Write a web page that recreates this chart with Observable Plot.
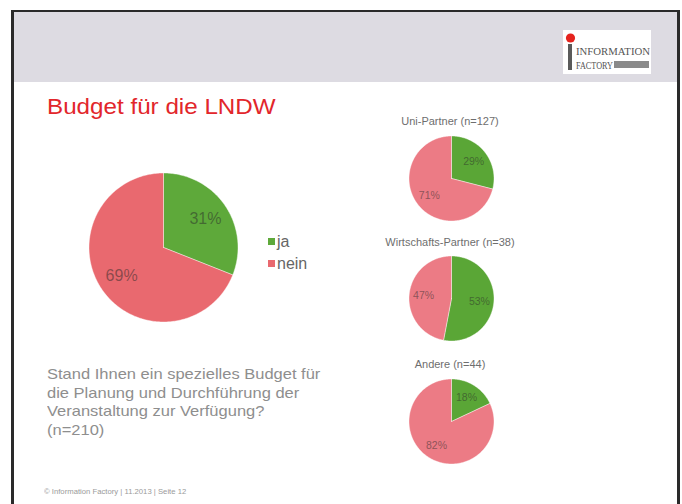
<!DOCTYPE html>
<html>
<head>
<meta charset="utf-8">
<script src="https://cdn.jsdelivr.net/npm/d3@7"></script>
<script src="https://cdn.jsdelivr.net/npm/@observablehq/plot@0.6"></script>
<style>
  html, body { margin: 0; padding: 0; background: #fff; }
  #page { position: relative; width: 682px; height: 504px; overflow: hidden; background: #fff; font-family: "Liberation Sans", Arial, sans-serif; }
  .abs { position: absolute; }
  .sx { transform-origin: 0 0; transform: scaleX(1.1); }
  #frame { left: 11px; top: 10px; width: 669px; height: 530px; box-sizing: border-box; border-left: 3px solid #2a2a2a; border-top: 2px solid #2a2a2a; border-right: 3px solid #2a2a2a; }
  #header { left: 14px; top: 12px; width: 663px; height: 70px; background: #dddbe2; }
  #title { left: 47px; top: 94px; font-size: 22px; color: #e2262b; white-space: nowrap; }
  #question { left: 47px; top: 365px; font-size: 15px; line-height: 18.5px; color: #8e8e8e; white-space: nowrap; }
  #footer { left: 44px; top: 487.5px; font-size: 7px; color: #9a9a9a; white-space: nowrap; }
  .ptitle { font-size: 10px; color: #6e6e6e; white-space: nowrap; transform: translateX(-50%) scaleX(1.1); }
  .leg { font-size: 16px; color: #666; white-space: nowrap; }
  .sw { width: 7px; height: 7px; }
</style>
</head>
<body>
<div id="page">
  <div id="frame" class="abs"></div>
  <div id="header" class="abs"></div>
  <svg class="abs" style="left:563px;top:30px" width="88" height="44">
    <rect x="0" y="0" width="88" height="44" fill="#fff"/>
    <circle cx="7.5" cy="8" r="4.6" fill="#e5231e"/>
    <rect x="5" y="14" width="4" height="26" fill="#5a5a5a"/>
    <text x="13" y="25" font-family="Liberation Serif, serif" font-size="10.5" fill="#555" textLength="74" lengthAdjust="spacingAndGlyphs">INFORMATION</text>
    <text x="13" y="39" font-family="Liberation Serif, serif" font-size="11" fill="#555" textLength="37" lengthAdjust="spacingAndGlyphs">FACTORY</text>
    <rect x="51" y="31" width="35" height="7" fill="#8a8a8a"/>
  </svg>
  <div id="title" class="abs sx">Budget für die LNDW</div>
  <div id="question" class="abs sx">Stand Ihnen ein spezielles Budget für<br>die Planung und Durchführung der<br>Veranstaltung zur Verfügung?<br>(n=210)</div>
  <div id="footer" class="abs sx">© Information Factory | 11.2013 | Seite 12</div>
</div>
<script>
// ---- data ----
const categories = ["ja", "nein"];
const mainValues = [31, 69];
const groups = ["Uni-Partner (n=127)", "Wirtschafts-Partner (n=38)", "Andere (n=44)"];
const groupJa = [29, 53, 18];
const groupNein = [71, 47, 82];

const mainColors = ["#5ea93a", "#e9696f"];
const smallColors = ["#5aa636", "#ec7b85"];

function slicesOf(values) {
  const total = d3.sum(values);
  let a0 = 0;
  return values.map((v, i) => {
    const a1 = a0 + v / total * 2 * Math.PI;
    const n = Math.max(2, Math.ceil((a1 - a0) / (Math.PI / 180)));
    const pts = [{x: 0, y: 0}];
    for (let j = 0; j <= n; j++) {
      const a = a0 + (a1 - a0) * j / n;
      pts.push({x: Math.sin(a), y: Math.cos(a)});
    }
    pts.push({x: 0, y: 0});
    const s = {cat: categories[i], value: v, label: v + "%", mid: (a0 + a1) / 2, pts};
    a0 = a1;
    return s;
  });
}

function piePlot(values, colors, W, r, fontSize, labelR) {
  const k = W / (2 * r);
  const slices = slicesOf(values);
  return Plot.plot({
    width: W, height: W,
    margin: 0, marginTop: 0, marginRight: 0, marginBottom: 0, marginLeft: 0,
    x: {domain: [-k, k], axis: null},
    y: {domain: [-k, k], axis: null},
    style: {background: "transparent", overflow: "visible", fontFamily: "Liberation Sans, Arial, sans-serif"},
    marks: [
      ...slices.map((s, i) => Plot.line(s.pts, {x: "x", y: "y", fill: colors[i], stroke: "#fff", strokeWidth: 0.6, strokeOpacity: 0.7})),
      Plot.text(slices, {
        x: d => labelR * Math.sin(d.mid),
        y: d => labelR * Math.cos(d.mid),
        text: "label",
        fontSize,
        fill: "#2a2a2a",
        fillOpacity: 0.5
      })
    ]
  });
}

const page = document.getElementById("page");
function place(node, left, top) {
  const wrap = document.createElement("div");
  wrap.className = "abs";
  wrap.style.left = left + "px";
  wrap.style.top = top + "px";
  wrap.appendChild(node);
  page.appendChild(wrap);
}

// main pie
{
  const W = 160, r = 74.5, cx = 162.5, cy = 246.5;
  place(piePlot(mainValues, mainColors, W, r, 16, 0.68), cx - W / 2, cy - W / 2);
}

// legend
const legendY = [243, 265];
categories.forEach((c, i) => {
  const sw = document.createElement("div");
  sw.className = "abs sw";
  sw.style.left = "268px";
  sw.style.top = (legendY[i] - 5) + "px";
  sw.style.background = mainColors[i];
  page.appendChild(sw);
  const t = document.createElement("div");
  t.className = "abs leg";
  t.style.left = "277px";
  t.style.top = (legendY[i] - 10) + "px";
  t.textContent = c;
  page.appendChild(t);
});

// small pies
const smallCY = [177.5, 297.5, 420.5];
const titleY = [122, 243, 365];
groups.forEach((g, i) => {
  const W = 100, r = 42.5, cx = 451;
  place(piePlot([groupJa[i], groupNein[i]], smallColors, W, r, 10.5, 0.66), cx - W / 2, smallCY[i] - W / 2);
  const t = document.createElement("div");
  t.className = "abs ptitle";
  t.style.left = "450px";
  t.style.top = (titleY[i] - 6) + "px";
  t.textContent = g;
  page.appendChild(t);
});
</script>
</body>
</html>
